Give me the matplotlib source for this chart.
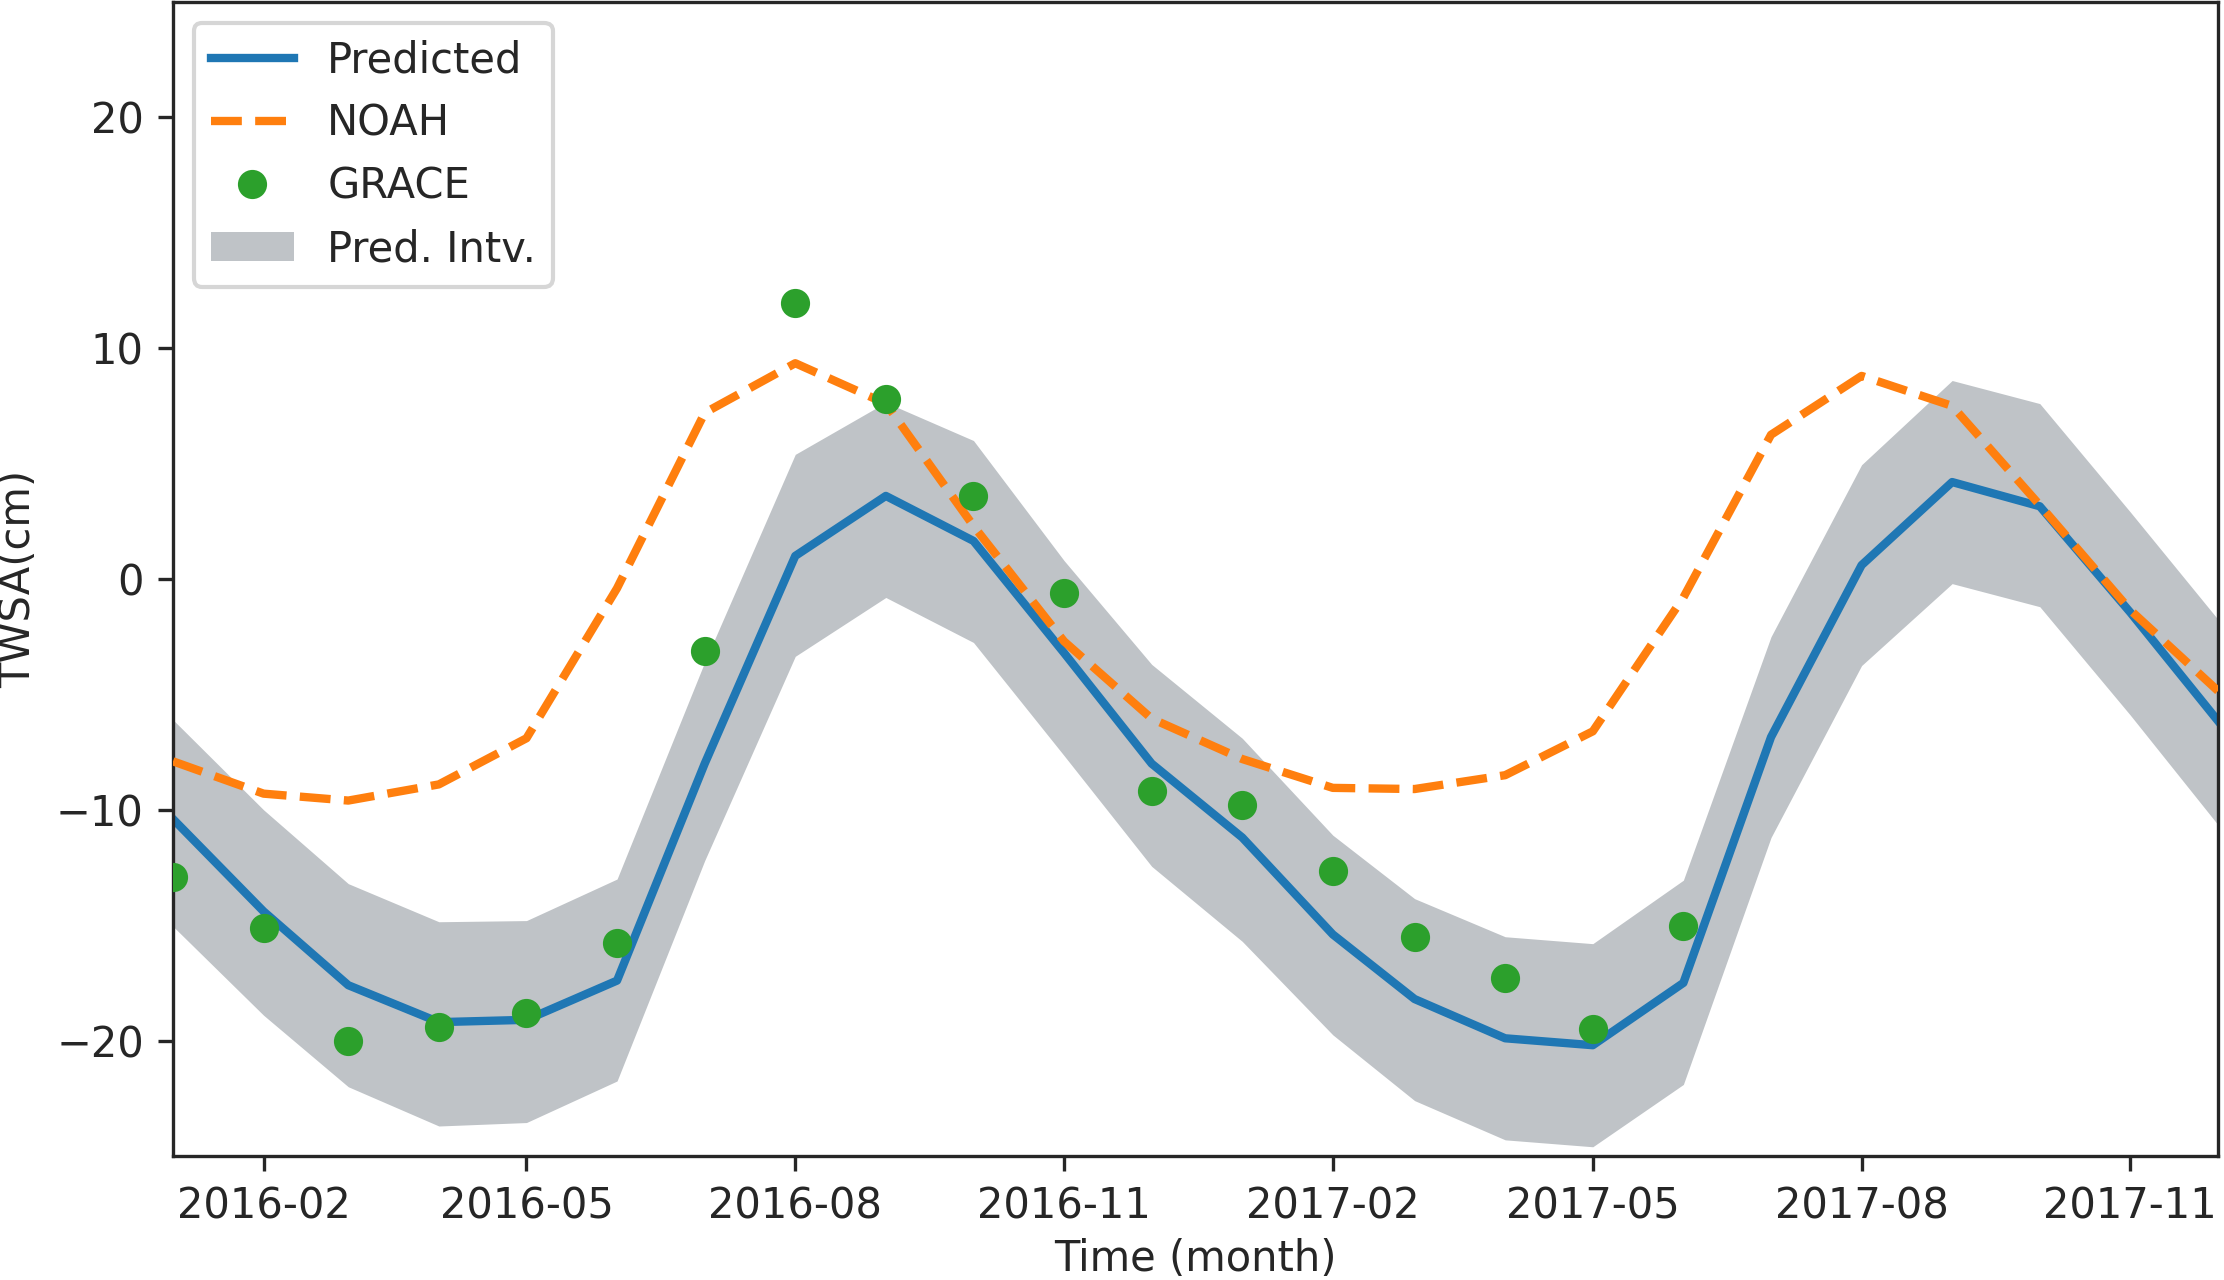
import matplotlib
matplotlib.use("Agg")
import matplotlib.pyplot as plt
import matplotlib.dates as mdates
import pandas as pd

months = ["2016-01", "2016-02", "2016-03", "2016-04", "2016-05", "2016-06",
          "2016-07", "2016-08", "2016-09", "2016-10", "2016-11", "2016-12",
          "2017-01", "2017-02", "2017-03", "2017-04", "2017-05", "2017-06",
          "2017-07", "2017-08", "2017-09", "2017-10", "2017-11", "2017-12"]

predicted = [-10.4, -14.4, -17.6, -19.2, -19.1, -17.4, -8.0, 1.0, 3.6, 1.65, -3.2, -8.0,
             -11.2, -15.4, -18.2, -19.9, -20.2, -17.5, -6.85, 0.6, 4.2, 3.15, -1.45, -6.15]

pred_upper = [-6.1, -10.0, -13.2, -14.85, -14.8, -13.0, -3.6, 5.4, 7.65, 6.0, 0.8, -3.7,
              -6.9, -11.1, -13.85, -15.5, -15.8, -13.05, -2.5, 4.95, 8.6, 7.6, 2.9, -1.75]

pred_lower = [-15.05, -18.9, -22.0, -23.7, -23.55, -21.75, -12.2, -3.35, -0.8, -2.75, -7.65, -12.45,
              -15.7, -19.75, -22.6, -24.3, -24.6, -21.9, -11.2, -3.75, -0.2, -1.2, -5.9, -10.65]

noah = [-7.9, -9.3, -9.6, -8.9, -6.9, -0.4, 7.2, 9.35, 7.6, 2.3, -2.7, -6.05,
        -7.8, -9.05, -9.1, -8.5, -6.6, -0.8, 6.25, 8.8, 7.5, 3.2, -1.35, -4.85]

grace_months = months[:18]
grace = [-12.9, -15.1, -20.0, -19.4, -18.8, -15.75, -3.1, 11.95, 7.8, 3.6, -0.6, -9.2,
         -9.8, -12.65, -15.5, -17.3, -19.5, -15.05]

tick_months = ["2016-02", "2016-05", "2016-08", "2016-11",
               "2017-02", "2017-05", "2017-08", "2017-11"]

dark = "#262626"
plt.rcParams.update({
    "font.family": ["DejaVu Sans"],
    "font.size": 10,
    "text.color": dark,
    "axes.labelcolor": dark,
    "axes.edgecolor": dark,
    "xtick.color": dark,
    "ytick.color": dark,
})

dates = pd.to_datetime(months)
gdates = pd.to_datetime(grace_months)
tdates = pd.to_datetime(tick_months)

fig = plt.figure(figsize=(2224 / 300, 1280 / 300), dpi=300)
ax = fig.add_axes([173 / 2224, 1 - 1156 / 1280, (2218 - 173) / 2224, (1156 - 2) / 1280])

ax.plot(dates, predicted, color="#1f77b4", lw=2, label="Predicted", zorder=2)
ax.plot(dates, noah, color="#ff7f0e", lw=2, ls="--", label="NOAH", zorder=3)
ax.plot(gdates, grace, "o", color="#2ca02c", label="GRACE", zorder=4)
ax.fill_between(dates, pred_lower, pred_upper, color="#bfc3c7", linewidth=0,
                label="Pred. Intv.", zorder=1)

ax.set_xlim(dates[0], dates[-1])
ax.set_ylim(-25, 25)
ax.set_yticks([-20, -10, 0, 10, 20])
ax.set_xticks(tdates)
ax.xaxis.set_major_formatter(mdates.DateFormatter("%Y-%m"))

ax.set_xlabel("Time (month)", labelpad=2.5)
ax.set_ylabel("TWSA(cm)")
ax.legend(loc="upper left")

fig.savefig("out.png", dpi=300)
